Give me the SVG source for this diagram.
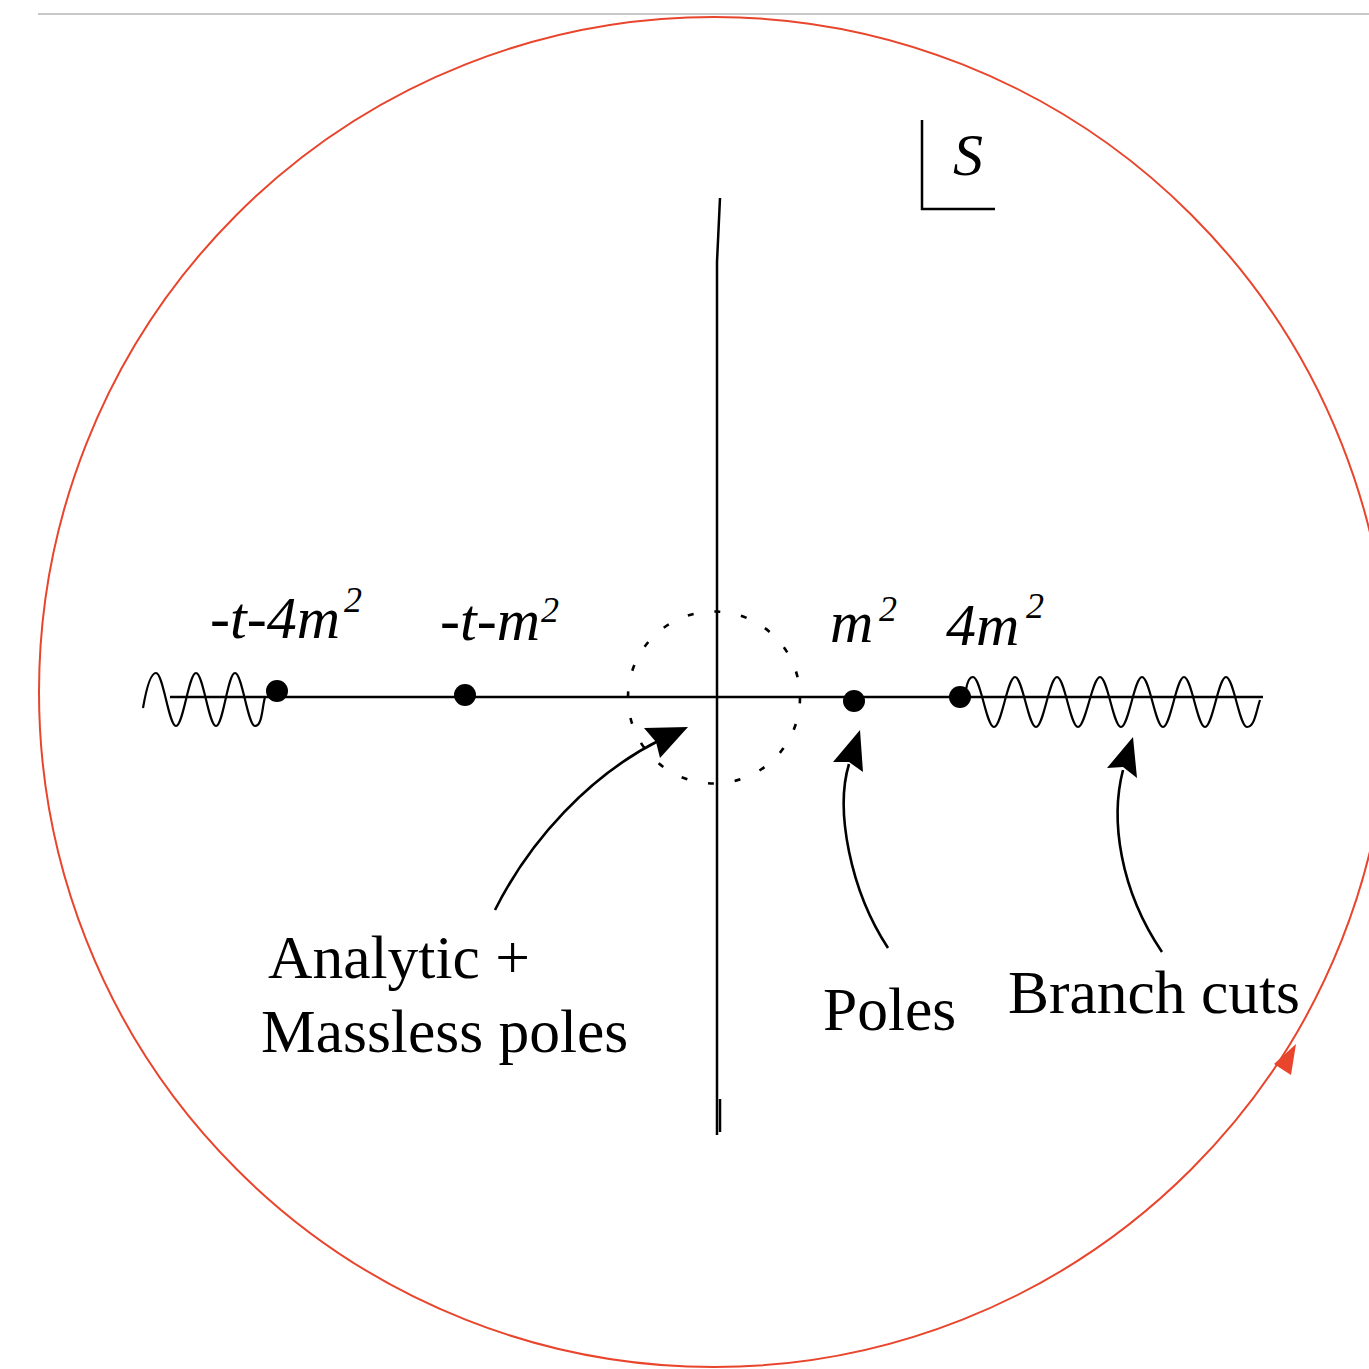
<svg xmlns="http://www.w3.org/2000/svg" width="1369" height="1369" viewBox="0 0 1369 1369">
<style>
.ax{fill:none;stroke:#000;stroke-width:2.5;stroke-linecap:butt}
.wv{fill:none;stroke:#000;stroke-width:2.2}
.ar{fill:none;stroke:#000;stroke-width:2.6}
.hd{fill:#000}
.dot{fill:#000}
.it{font-family:"Liberation Serif","Times New Roman",serif;font-style:italic;font-size:60px;fill:#000}
.sup{font-family:"Liberation Serif","Times New Roman",serif;font-style:italic;font-size:36px;fill:#000}
.lb{font-family:"Liberation Serif","Times New Roman",serif;font-size:61.5px;fill:#000}
</style>
<rect width="1369" height="1369" fill="#fff"/>
<line x1="38" y1="14" x2="1369" y2="14" stroke="#c8c8c8" stroke-width="2"/>
<g id="contour">
<circle cx="714" cy="692" r="675" fill="none" stroke="#e8452c" stroke-width="2"/>
<polygon points="1296,1044 1274,1064 1291,1075" fill="#e8452c"/>
</g>
<g id="s-label">
<path d="M922,120 L922,209 L995,209" class="ax"/>
<text x="953" y="175" class="it" font-size="62">S</text>
</g>
<g id="axes">
<path d="M720,198 L717,262 L717,1135" class="ax"/>
<path d="M720,1099 L720,1132" class="ax" stroke-width="2"/>
<path d="M170,697 L1263,697" class="ax"/>
</g>
<g id="origin-region">
<circle cx="714" cy="697.5" r="86" fill="none" stroke="#000" stroke-width="2.6" stroke-dasharray="6 21"/>
</g>
<g id="left-cut">
<path class="wv" d="M143,708 Q149,673 156,673 C163.2,673 168.8,726 176,726 S188.8,673 196,673 S208.8,726 216,726 S227.8,673 235,673 S247.8,726 255,726 S262,708 265,697"/>
</g>
<g id="right-cut">
<path class="wv" d="M966,690 Q968,677 973,677 C980.6,677 986.4,727 994,727 S1007.4,677 1015,677 S1028.4,727 1036,727 S1049.4,677 1057,677 S1070.4,727 1078,727 S1092.4,677 1100,677 S1113.4,727 1121,727 S1134.4,677 1142,677 S1155.4,727 1163,727 S1176.4,677 1184,677 S1197.4,727 1205,727 S1218.4,677 1226,677 S1239.4,727 1247,727 S1256,712 1260,700"/>
</g>
<g id="point-t4m2">
<circle class="dot" cx="277" cy="691" r="11"/>
<text class="it" x="210" y="638">-t-4m<tspan class="sup" x="344" y="612">2</tspan></text>
</g>
<g id="point-tm2">
<circle class="dot" cx="465" cy="695" r="11"/>
<text class="it" x="440" y="640">-t-m<tspan class="sup" x="541" y="622">2</tspan></text>
</g>
<g id="point-m2">
<circle class="dot" cx="854" cy="701" r="11"/>
<text class="it" x="830" y="642">m<tspan class="sup" x="879" y="621">2</tspan></text>
</g>
<g id="point-4m2">
<circle class="dot" cx="960" cy="697" r="11"/>
<text class="it" x="946" y="645">4m<tspan class="sup" x="1026" y="618">2</tspan></text>
</g>
<g id="connectors">
<path class="ar" d="M495,910 C530,840 590,775 660,740"/>
<polygon class="hd" points="688,727 644,728 656,742 660,758"/>
<path class="ar" d="M888,948 C850,890 835,810 849,764"/>
<polygon class="hd" points="860,730 833,762 849,762 863,772"/>
<path class="ar" d="M1162,952 C1120,890 1110,820 1123,770"/>
<polygon class="hd" points="1133,737 1107,768 1123,767 1137,778"/>
</g>
<g id="label-analytic">
<text class="lb" x="268" y="978">Analytic +</text>
<text class="lb" x="261" y="1052">Massless poles</text>
</g>
<g id="label-poles">
<text class="lb" x="823" y="1030">Poles</text>
</g>
<g id="label-branch">
<text class="lb" x="1008" y="1013">Branch cuts</text>
</g>
</svg>
